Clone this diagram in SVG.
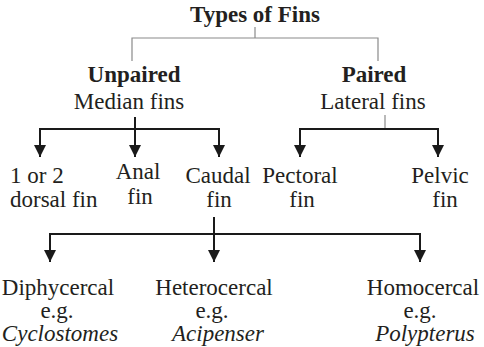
<svg xmlns="http://www.w3.org/2000/svg" width="484" height="347" viewBox="0 0 484 347">
<style>
  text { font-family: "Liberation Serif", "Times New Roman", serif; font-size: 23px; fill: #231f20; }
  .b { font-weight: bold; }
  .i { font-style: italic; }
  .c { text-anchor: middle; }
  .gray { stroke: #8a8a8a; stroke-width: 1.2; fill: none; }
  .blk { stroke: #1a1a1a; stroke-width: 2; fill: none; }
  .arr { stroke: #1a1a1a; stroke-width: 2; fill: none; marker-end: url(#ah); }
</style>
<defs>
  <marker id="ah" markerUnits="userSpaceOnUse" markerWidth="12" markerHeight="12" refX="12" refY="6" orient="auto" viewBox="0 0 12 12">
    <path d="M0,0 L12,6 L0,12 z" fill="#1a1a1a"/>
  </marker>
</defs>
<g id="connectors">
  <polyline class="gray" points="132,61 132,38 378,38 378,61"/>
  <line class="gray" x1="255" y1="27" x2="255" y2="38"/>
  <line class="blk" x1="135" y1="117" x2="135" y2="129"/>
  <line class="blk" x1="40" y1="129" x2="219" y2="129"/>
  <line class="arr" x1="40" y1="128" x2="40" y2="157"/>
  <line class="arr" x1="135" y1="129" x2="135" y2="157"/>
  <line class="arr" x1="219" y1="128" x2="219" y2="157"/>
  <line class="gray" x1="385" y1="115" x2="385" y2="129"/>
  <line class="blk" x1="300" y1="129" x2="438" y2="129"/>
  <line class="arr" x1="300" y1="128" x2="300" y2="157"/>
  <line class="arr" x1="438" y1="128" x2="438" y2="157"/>
  <line class="blk" x1="50" y1="234" x2="420" y2="234"/>
  <line class="arr" x1="214" y1="217" x2="214" y2="262"/>
  <line class="arr" x1="50" y1="233" x2="50" y2="262"/>
  <line class="arr" x1="420" y1="233" x2="420" y2="262"/>
</g>
<g id="title"><text class="b c" x="255" y="22">Types of Fins</text></g>
<g id="unpaired">
  <text class="b c" x="134" y="82">Unpaired</text>
  <text class="c" x="129" y="109">Median fins</text>
</g>
<g id="paired">
  <text class="b c" x="374" y="82">Paired</text>
  <text class="c" x="373" y="109">Lateral fins</text>
</g>
<g id="dorsal">
  <text x="10" y="183">1 or 2</text>
  <text x="10" y="207">dorsal fin</text>
</g>
<g id="anal">
  <text class="c" x="138" y="179">Anal</text>
  <text class="c" x="140" y="204">fin</text>
</g>
<g id="caudal">
  <text class="c" x="218" y="183">Caudal</text>
  <text class="c" x="219" y="207">fin</text>
</g>
<g id="pectoral">
  <text class="c" x="300" y="183">Pectoral</text>
  <text class="c" x="302" y="207">fin</text>
</g>
<g id="pelvic">
  <text class="c" x="440" y="183">Pelvic</text>
  <text class="c" x="445" y="207">fin</text>
</g>
<g id="diphycercal">
  <text class="c" x="58" y="295">Diphycercal</text>
  <text class="c" x="57" y="318">e.g.</text>
  <text class="c i" x="60" y="341">Cyclostomes</text>
</g>
<g id="heterocercal">
  <text class="c" x="214" y="295">Heterocercal</text>
  <text class="c" x="212" y="318">e.g.</text>
  <text class="c i" x="218" y="341">Acipenser</text>
</g>
<g id="homocercal">
  <text class="c" x="423" y="295">Homocercal</text>
  <text class="c" x="420" y="318">e.g.</text>
  <text class="c i" x="425" y="341">Polypterus</text>
</g>
</svg>
